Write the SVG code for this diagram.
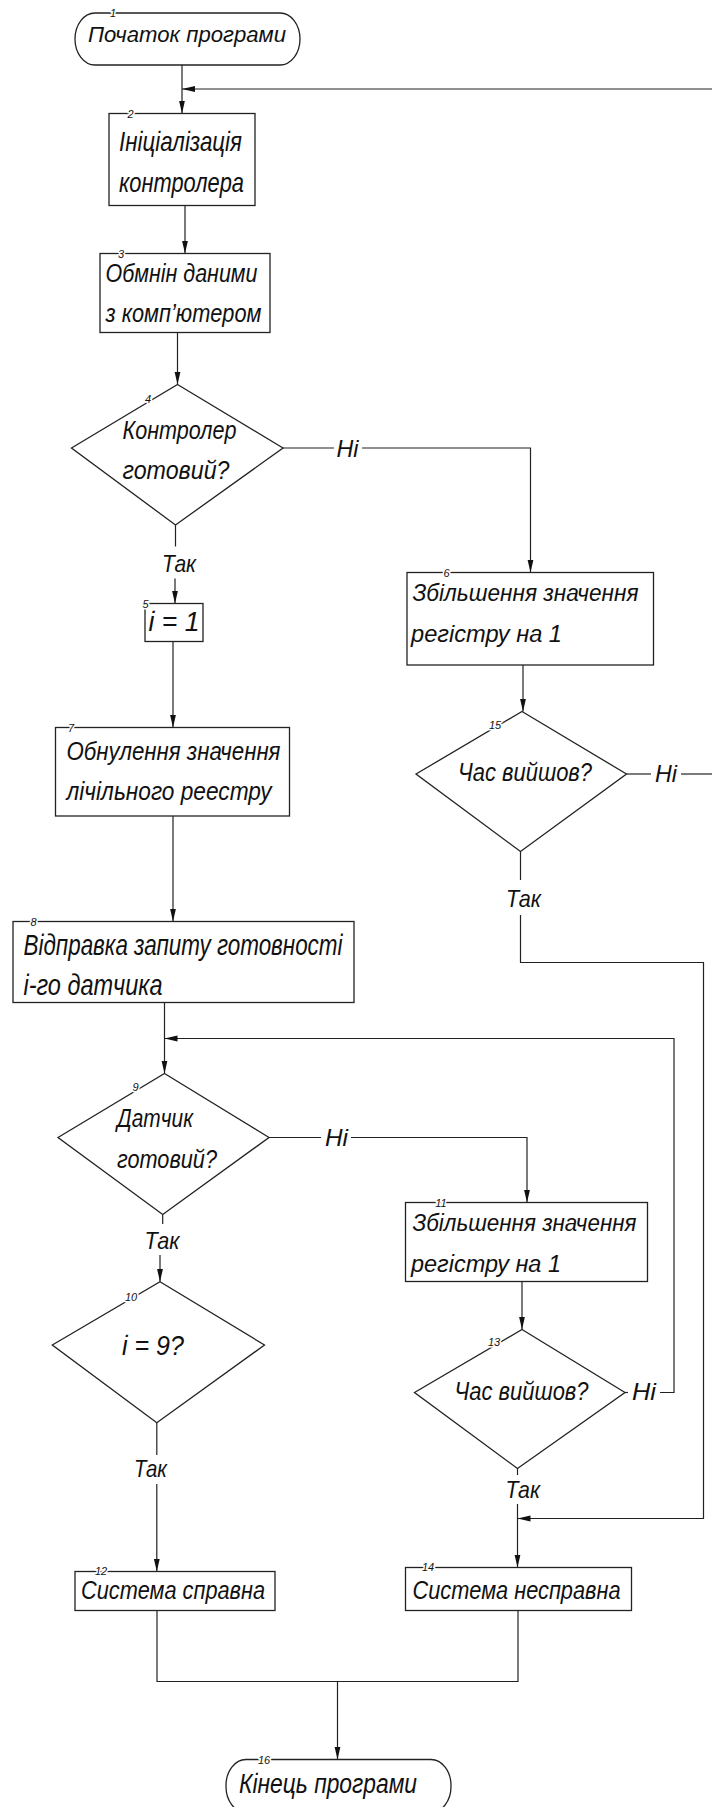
<svg xmlns="http://www.w3.org/2000/svg" width="712" height="1807" viewBox="0 0 712 1807">
  <style>
    .shape { fill: #ffffff; stroke: #222; stroke-width: 1.3; }
    .line { fill: none; stroke: #222; stroke-width: 1.2; }
    .t { font-family: "Liberation Sans", "DejaVu Sans", sans-serif; font-style: italic; fill: #111; }
    .num { font-family: "Liberation Sans", "DejaVu Sans", sans-serif; font-style: italic; font-size: 11px; fill: #111; text-anchor: middle; paint-order: stroke; stroke: #fff; stroke-width: 3px; stroke-linejoin: round; }
    .lbl { font-family: "Liberation Sans", "DejaVu Sans", sans-serif; font-style: italic; font-size: 24px; fill: #111; }
  </style>
  <defs>
    <marker id="arrow" markerUnits="userSpaceOnUse" markerWidth="14" markerHeight="7" refX="13" refY="3" orient="auto">
      <path d="M0,0 L13,3 L0,6 z" fill="#111"/>
    </marker>
  </defs>
  <rect width="712" height="1807" fill="#ffffff"/>

  <!-- connectors -->
  <g id="connectors">
    <path class="line" d="M182,65 V113.5" marker-end="url(#arrow)"/>
    <path class="line" d="M712,89 H182" marker-end="url(#arrow)"/>
    <path class="line" d="M185,205.5 V253.5" marker-end="url(#arrow)"/>
    <path class="line" d="M177.5,332.5 V384.5" marker-end="url(#arrow)"/>
    <!-- 4: no -->
    <path class="line" d="M283,448 H334"/>
    <path class="line" d="M362,448 H530.5 V572.5" marker-end="url(#arrow)"/>
    <!-- 4: yes -->
    <path class="line" d="M175.5,525 V546.5"/>
    <path class="line" d="M175,578.5 V603.5" marker-end="url(#arrow)"/>
    <path class="line" d="M173,641.5 V727.5" marker-end="url(#arrow)"/>
    <path class="line" d="M173,816 V921.5" marker-end="url(#arrow)"/>
    <path class="line" d="M164.5,1002.5 V1073.5" marker-end="url(#arrow)"/>
    <!-- 6 -> 15 -->
    <path class="line" d="M523,665 V711.5" marker-end="url(#arrow)"/>
    <!-- 15: no -->
    <path class="line" d="M626.5,774 H651"/>
    <path class="line" d="M681,774 H712"/>
    <!-- 15: yes -->
    <path class="line" d="M520.5,851.5 V880"/>
    <path class="line" d="M520.5,915 V962.5 H703.5 V1518.5 H517.5" marker-end="url(#arrow)"/>
    <!-- 9: no -->
    <path class="line" d="M269,1137.5 H321"/>
    <path class="line" d="M351,1137.5 H527 V1202.5" marker-end="url(#arrow)"/>
    <!-- 9: yes -->
    <path class="line" d="M162.7,1214.5 V1224"/>
    <path class="line" d="M160,1255 V1281.7" marker-end="url(#arrow)"/>
    <!-- 11 -> 13 -->
    <path class="line" d="M522,1281.5 V1329.5" marker-end="url(#arrow)"/>
    <!-- 13: no -->
    <path class="line" d="M625,1392.5 H628"/>
    <path class="line" d="M660,1392.5 H674 V1038.5 H164.5" marker-end="url(#arrow)"/>
    <!-- 10: yes -->
    <path class="line" d="M156.8,1422.7 V1455"/>
    <path class="line" d="M156.8,1484 V1571.5" marker-end="url(#arrow)"/>
    <!-- 13: yes -->
    <path class="line" d="M517.5,1468.5 V1475"/>
    <path class="line" d="M517.5,1504 V1567.5" marker-end="url(#arrow)"/>
    <!-- 12, 14 -> 16 -->
    <path class="line" d="M157,1610.5 V1681.5 H518 V1610.5"/>
    <path class="line" d="M337.5,1681.5 V1759.5" marker-end="url(#arrow)"/>

    <text class="lbl" x="336.5" y="456.5" textLength="22" lengthAdjust="spacingAndGlyphs">Ні</text>
    <text class="lbl" x="162" y="572" textLength="34" lengthAdjust="spacingAndGlyphs">Так</text>
    <text class="lbl" x="655" y="781.5" textLength="22" lengthAdjust="spacingAndGlyphs">Ні</text>
    <text class="lbl" x="506" y="907" textLength="35" lengthAdjust="spacingAndGlyphs">Так</text>
    <text class="lbl" x="325" y="1145.5" textLength="23" lengthAdjust="spacingAndGlyphs">Ні</text>
    <text class="lbl" x="144.5" y="1249" textLength="35" lengthAdjust="spacingAndGlyphs">Так</text>
    <text class="lbl" x="632" y="1399.5" textLength="24" lengthAdjust="spacingAndGlyphs">Ні</text>
    <text class="lbl" x="134" y="1476.5" textLength="33" lengthAdjust="spacingAndGlyphs">Так</text>
    <text class="lbl" x="505.5" y="1497.5" textLength="34.5" lengthAdjust="spacingAndGlyphs">Так</text>
  </g>

  <!-- nodes -->
  <g id="n1">
    <rect class="shape" x="75" y="13" width="225" height="52" rx="20" ry="26"/>
    <text class="t" x="88" y="42" font-size="22" textLength="198" lengthAdjust="spacingAndGlyphs">Початок програми</text>
    <text class="num" x="113" y="16.5">1</text>
  </g>
  <g id="n2">
    <rect class="shape" x="109" y="113.5" width="146" height="92"/>
    <text class="t" x="119" y="150.5" font-size="28" textLength="123" lengthAdjust="spacingAndGlyphs">Ініціалізація</text>
    <text class="t" x="119" y="191.5" font-size="28" textLength="125" lengthAdjust="spacingAndGlyphs">контролера</text>
    <text class="num" x="130.5" y="117.5">2</text>
  </g>
  <g id="n3">
    <rect class="shape" x="100" y="253.5" width="170" height="79"/>
    <text class="t" x="105.5" y="281.5" font-size="25" textLength="152" lengthAdjust="spacingAndGlyphs">Обмнін даними</text>
    <text class="t" x="105.5" y="322" font-size="25" textLength="156" lengthAdjust="spacingAndGlyphs">з комп’ютером</text>
    <text class="num" x="121" y="257.5">3</text>
  </g>
  <g id="n4">
    <polygon class="shape" points="177.5,384.5 283,448 175.5,525 71.5,448"/>
    <text class="t" x="122.5" y="438.5" font-size="25" textLength="114" lengthAdjust="spacingAndGlyphs">Контролер</text>
    <text class="t" x="122.5" y="478.5" font-size="25" textLength="107" lengthAdjust="spacingAndGlyphs">готовий?</text>
    <text class="num" x="148" y="402.5">4</text>
  </g>
  <g id="n5">
    <rect class="shape" x="145" y="603.5" width="58" height="38"/>
    <text class="t" x="148.5" y="631" font-size="27" textLength="51" lengthAdjust="spacingAndGlyphs">і = 1</text>
    <text class="num" x="145.5" y="607.5">5</text>
  </g>
  <g id="n6">
    <rect class="shape" x="407" y="572.5" width="246.5" height="92.5"/>
    <text class="t" x="412.5" y="601" font-size="23" textLength="226" lengthAdjust="spacingAndGlyphs">Збільшення значення</text>
    <text class="t" x="411" y="642" font-size="23" textLength="151" lengthAdjust="spacingAndGlyphs">регістру на 1</text>
    <text class="num" x="446.5" y="576.5">6</text>
  </g>
  <g id="n7">
    <rect class="shape" x="55.5" y="727.5" width="234" height="88.5"/>
    <text class="t" x="66.5" y="759.5" font-size="26" textLength="214" lengthAdjust="spacingAndGlyphs">Обнулення значення</text>
    <text class="t" x="66.5" y="799.5" font-size="26" textLength="205" lengthAdjust="spacingAndGlyphs">лічільного реестру</text>
    <text class="num" x="71" y="731.5">7</text>
  </g>
  <g id="n8">
    <rect class="shape" x="13" y="921.5" width="341" height="81"/>
    <text class="t" x="23.5" y="954.5" font-size="29" textLength="319" lengthAdjust="spacingAndGlyphs">Відправка запиту готовності</text>
    <text class="t" x="23.5" y="994.5" font-size="29" textLength="139" lengthAdjust="spacingAndGlyphs">і-го датчика</text>
    <text class="num" x="33.5" y="926">8</text>
  </g>
  <g id="n9">
    <polygon class="shape" points="164.5,1073.5 269,1137.5 162.7,1214.5 58,1137.5"/>
    <text class="t" x="117" y="1126.5" font-size="25" textLength="76" lengthAdjust="spacingAndGlyphs">Датчик</text>
    <text class="t" x="117" y="1167.5" font-size="25" textLength="100" lengthAdjust="spacingAndGlyphs">готовий?</text>
    <text class="num" x="135.5" y="1091">9</text>
  </g>
  <g id="n10">
    <polygon class="shape" points="160,1281.7 264.5,1345 156.8,1422.7 52.3,1345"/>
    <text class="t" x="122" y="1354.5" font-size="28" textLength="62" lengthAdjust="spacingAndGlyphs">і = 9?</text>
    <text class="num" x="131" y="1300.5">10</text>
  </g>
  <g id="n11">
    <rect class="shape" x="405.5" y="1202.5" width="242" height="79"/>
    <text class="t" x="412.5" y="1231" font-size="23.5" textLength="224" lengthAdjust="spacingAndGlyphs">Збільшення значення</text>
    <text class="t" x="411" y="1272" font-size="23.5" textLength="150" lengthAdjust="spacingAndGlyphs">регістру на 1</text>
    <text class="num" x="441" y="1206.5">11</text>
  </g>
  <g id="n12">
    <rect class="shape" x="75" y="1571.5" width="200" height="39"/>
    <text class="t" x="81" y="1599" font-size="26" textLength="184" lengthAdjust="spacingAndGlyphs">Система справна</text>
    <text class="num" x="101" y="1575">12</text>
  </g>
  <g id="n13">
    <polygon class="shape" points="522,1329.5 625,1392.5 517.5,1468.5 414.5,1392.5"/>
    <text class="t" x="454.5" y="1399.5" font-size="26" textLength="134" lengthAdjust="spacingAndGlyphs">Час вийшов?</text>
    <text class="num" x="494" y="1345.5">13</text>
  </g>
  <g id="n14">
    <rect class="shape" x="405.5" y="1567.5" width="226" height="43"/>
    <text class="t" x="412.5" y="1598.5" font-size="26" textLength="208" lengthAdjust="spacingAndGlyphs">Система несправна</text>
    <text class="num" x="428" y="1571">14</text>
  </g>
  <g id="n15">
    <polygon class="shape" points="522,711.5 626.5,774 520.5,851.5 416,774"/>
    <text class="t" x="458" y="781" font-size="25" textLength="134" lengthAdjust="spacingAndGlyphs">Час вийшов?</text>
    <text class="num" x="495" y="728.5">15</text>
  </g>
  <g id="n16">
    <rect class="shape" x="226" y="1759.5" width="225" height="53" rx="20" ry="26"/>
    <text class="t" x="239" y="1792.5" font-size="27" textLength="178" lengthAdjust="spacingAndGlyphs">Кінець програми</text>
    <text class="num" x="264" y="1763.5">16</text>
  </g>
</svg>
